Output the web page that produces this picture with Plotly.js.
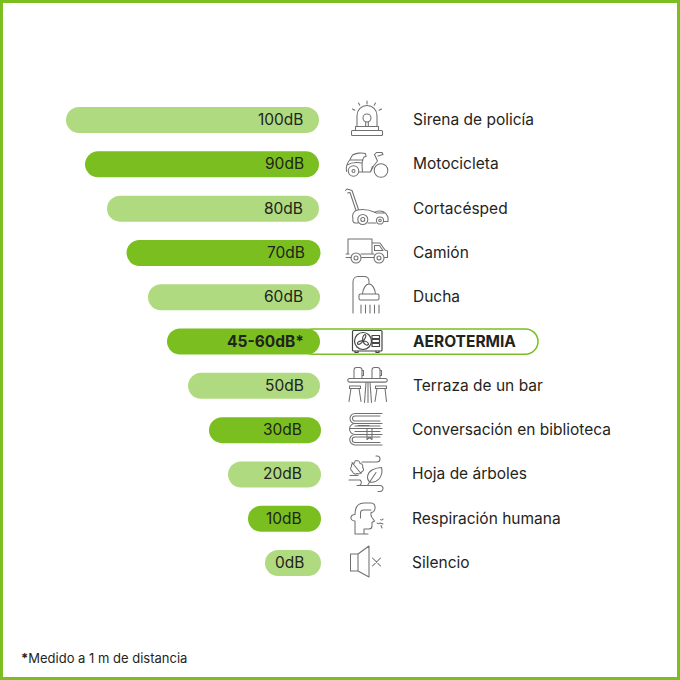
<!DOCTYPE html>
<html><head><meta charset="utf-8">
<script src="https://cdn.plot.ly/plotly-3.0.1.min.js"></script>
<style>html,body{margin:0;padding:0;background:#fff;overflow:hidden}#c{width:680px;height:680px}</style>
</head><body><div id="c"></div>
<script>
const sources = ["Sirena de policía","Motocicleta","Cortacésped","Camión","Ducha","AEROTERMIA","Terraza de un bar","Conversación en biblioteca","Hoja de árboles","Respiración humana","Silencio"];
const valueLabels = ["100dB","90dB","80dB","70dB","60dB","<b>45-60dB*</b>","50dB","30dB","20dB","10dB","0dB"];
const barLengths = [253,234,212,194,172,153,132,112,93,73,56];
const barStarts = [1,1,1,-0.5,0,0,0,-1,-1,-1,-1];
const barColors = ["#b0da7f","#7abf1f","#b0da7f","#7abf1f","#b0da7f","#7abf1f","#b0da7f","#7abf1f","#b0da7f","#7abf1f","#b0da7f"];
const valueX = [15.5,15.5,16.5,14.5,16.5,15,15.5,17.5,17.5,17.5,15.5];
const labelX = [-92,-92,-92,-92,-92,-92,-92,-91,-91,-91,-91];
const highlightRow = "AEROTERMIA";
const highlightLength = 238, highlightStart = -218;

const INK = "#1f241c", GREEN = "#7abf1f";
const icons = `<svg xmlns="http://www.w3.org/2000/svg" width="680" height="680" viewBox="0 0 680 680" fill="none" stroke="#707070" stroke-width="1.05" stroke-linejoin="round" stroke-linecap="round">
<!-- siren -->
<path d="M352.500 135.500h29a1 1 0 0 0 1-1v-3a1 1 0 0 0-1-1h-29a1 1 0 0 0-1 1v3a1 1 0 0 0 1 1zM355.500 130.500v-4h23v4M357 126.500v-11a10 10 0 0 1 20 0v11"/>
<circle cx="367" cy="118" r="4"/><path d="M365.700 122v4.500M368.300 122v4.500M367 101v3M358.500 103l1.300 2.300M375.500 103l-1.300 2.300M352.500 109l2.300 1.200M381.500 109l-2.300 1.200"/>
<!-- moto -->
<circle cx="353.500" cy="171" r="5.300"/><circle cx="353.500" cy="171" r="1.500"/><circle cx="381" cy="170.500" r="6.800"/>
<path d="M346.500 171.500c-1-5 1-9 3.500-12l2.500-4.500c3-2 9-2.500 13-1.500l.5 3-2 .5c-2 3-2.500 7-1.500 14.500M350 160h13M347 165c4-2.500 9-3 15-2M359 172h11.500c2-5 4-8 7-11l-3-6.500M374.500 154.500l2-2h5.500l1 2-5 1.500M370.500 172c1-3 1.500-4 2-5.500"/>
<!-- mower -->
<path d="M345.500 190.500l1.500-1.500 5 1.500 6.500 19M347.500 193l2.500-.5 6 18"/>
<path d="M353 219c-1.500-4 .5-8 4.500-9 5-1 11-.5 16.500 2l2.500 1h9l2.500 4v4.500h-4M358 223h-3a3 3 0 0 1-2-4M368 223h8M374.500 212.500c2-2 8.500-2 10.500.5"/>
<circle cx="362.800" cy="219.500" r="5"/><circle cx="362.800" cy="219.500" r="2"/><circle cx="380" cy="220.500" r="3.600"/><circle cx="380" cy="220.500" r="1.300"/>
<!-- truck -->
<path d="M372 253.500v-14.500h-24v14.500M372 243h8l5 7 2.500 1v6.500h-3M361.500 257.500h12.500M346 257.500h5M372 243v10.500M374.500 245.500h5l3.500 5h-8.500zM346 254h3M361 254h13"/>
<circle cx="356" cy="258" r="5"/><circle cx="356" cy="258" r="2"/><circle cx="379" cy="258" r="5"/><circle cx="379" cy="258" r="2"/>
<!-- shower -->
<path d="M353 313v-31c0-3 2-5.500 5-5.500h6c3 0 5 2 5 5M369 282v2M362.500 294c.5-5 3-10 6.500-10s6 5 6.500 10M360.500 300h17a1.500 1.500 0 0 0 1.500-1.500v-3a1.500 1.500 0 0 0-1.500-1.500h-17a1.500 1.500 0 0 0-1.500 1.500v3a1.500 1.500 0 0 0 1.500 1.500zM361 305v8M365.500 305v8M370 305v8M374.500 305v8M379 305v8"/>
<!-- aerotermia -->
<g stroke="#454545" stroke-width="1.200"><rect x="352.500" y="330.500" width="29.500" height="20.500" rx="1"/><circle cx="363" cy="341" r="8.500"/>
<path d="M372 335.500h7.500v3h-7.500zM372 339.500h7.500v3h-7.500zM372 343.500h7.500v3h-7.500zM355 351v1.500h3V351M376 351v1.500h3V351" /><path d="M363 341c-1-3 0-6 2-6.500 2 .5 0 4.500-2 6.500zM363 341c3 0 5.500 1.500 5.500 3.500-1.500 1.500-4.500 0-5.500-3.500zM363 341c-1.500 2.500-4 4-5.500 3-.5-2 2.500-3.500 5.500-3z" stroke-width="1.100"/></g>
<!-- terrace -->
<path d="M349.500 378.500h36a1.800 1.800 0 0 1 0 3.600h-36a1.800 1.800 0 0 1 0-3.600zM354 378v-8c0-1.500 1-2.500 2.500-2.500h3c1.500 0 2.500 1 2.500 2.500v8M362 370.500h1.500v5h-1.500M372 378v-8c0-1.500 1-2.500 2.500-2.500h3c1.500 0 2.500 1 2.500 2.500v8M380 370.500h1.500v5h-1.500"/>
<path d="M349.500 386h11v2.500h-11zM375.500 386h11v2.500h-11zM351 388.500l-2 13M359 388.500l2 13M377 388.500l-2 13M385 388.500l1.500 13M366 382.500l-1.500 20M368 382.500v20M370 382.500l1.500 20"/>
<!-- books -->
<path d="M382 413.500h-27a4.500 4.500 0 0 0 0 10h27M380 416h-25a2.200 2.200 0 0 0 0 5h25M350 428.500h32M382 423.500h-27a5 5 0 0 0 0 11h27M380 426h-25M380 431.500h-25M382 434.500h-27a5 5 0 0 0 0 10.500h27M380 437h-25a2.500 2.500 0 0 0 0 5.500h25M367 428.500v11l2.500-2 2.500 2v-11M358 425.500h11"/>
<!-- leaves -->
<path d="M356 460.500c3 0 4 2 4 3 2 0 3.500 2 2.500 4 1.500 1 1.500 3.500-.5 4-1 2-3 3-5 2-1.500 1-4 .5-4.500-2-2-1-2.500-3.500-1-5-.5-2 1-4 3-3.500.2-1.500 1-2.500 1.500-2.500zM352 462.500l9 11"/>
<path d="M362 462h15a3 3 0 0 0 0-6h-1M349 480h11a3 3 0 0 1 0 5M350 475.500h8M357 485.500h23a3 3 0 0 1 0 6h-2M370 482c-4-3-3-9 2-12 4-2 8-2.500 9.500-2.500 1 3 .5 7-2 11-3 3-6 4.500-9.500 3.500zM368 484.500l8-12"/>
<!-- head -->
<path d="M355 534v-13c-3 0-4.500-2-4-4 .5-2 2-2.500 4-2.500 0-7 3-11.500 9-11.500h7c3 0 4.500 2.500 4 5.500-.5 3-2 4-4 4v3l1 2 2.500 3.500-2.500 1.500v3.500c0 2-1 3-3 3h-5v4.500M355 534h13M371 510h-7.500c-2 0-3 1-3 3v5M377 523c1 1 2 1 3 0M380.500 519.500c1 1 2 .5 2.500-.5M380 523l3 1M381 525.500l1 2.500"/>
<!-- speaker -->
<path d="M350.500 554h7.500v17h-7.500zM358 554l11-8v31l-11-6M372.500 558l8 8M380.500 558l-8 8"/>
</svg>`;

const textNote = (x, y, text, anchor) => ({xref:"x",yref:"y",x,y,text,xanchor:anchor,yanchor:"middle",yshift:0.5,showarrow:false,
  borderpad:0,font:{family:"Inter",size:15.5,color:INK}});
const annotations = [
  ...sources.map((s,i)=>textNote(valueX[i],s,valueLabels[i],"right")),
  ...sources.map((s,i)=>textNote(labelX[i],s,s===highlightRow?"<b>"+s+"</b>":s,"left")),
  {xref:"paper",yref:"paper",x:19.5/680,y:1-658/680,xanchor:"left",yanchor:"middle",showarrow:false,borderpad:0,
    text:"<b>*</b>Medido a 1 m de distancia",font:{family:"Inter",size:13,color:INK}}
];
const traces = [
  {type:"bar",orientation:"h",y:[highlightRow],x:[highlightLength],base:[highlightStart],width:0.57,
   marker:{color:"#ffffff",line:{color:GREEN,width:1.5},cornerradius:13},hoverinfo:"skip"},
  {type:"bar",orientation:"h",y:sources,x:barLengths,base:barStarts,width:0.587,
   marker:{color:barColors,cornerradius:13},hoverinfo:"skip"}
];
const layout = {
  width:680,height:680,margin:{l:0,r:0,t:0,b:0},paper_bgcolor:"#fff",plot_bgcolor:"#fff",showlegend:false,barmode:"overlay",
  xaxis:{range:[320,-360],visible:false,fixedrange:true},
  yaxis:{type:"category",categoryorder:"array",categoryarray:sources,range:[12.64,-2.71],visible:false,fixedrange:true},
  shapes:[{type:"rect",xref:"paper",yref:"paper",x0:0,x1:1,y0:0,y1:1,line:{color:GREEN,width:6},fillcolor:"rgba(0,0,0,0)"}],
  images:[{source:"data:image/svg+xml;charset=utf-8,"+encodeURIComponent(icons),xref:"paper",yref:"paper",x:0,y:1,sizex:1,sizey:1,xanchor:"left",yanchor:"top",layer:"above",sizing:"stretch"}],
  annotations
};
Plotly.newPlot("c",traces,layout,{staticPlot:true,displayModeBar:false});
</script></body></html>
